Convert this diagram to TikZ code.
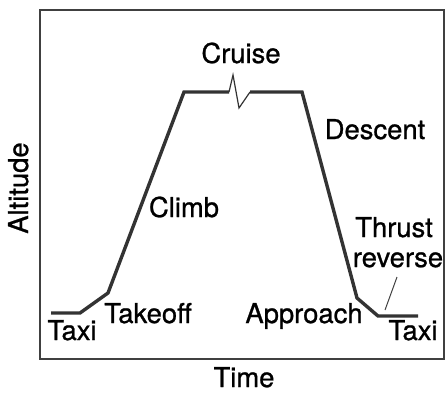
\documentclass[tikz,border=0pt]{standalone}
\usepackage{fontspec}
\setmainfont[FakeBold=0.9]{TeX Gyre Heros}
\begin{document}
\begin{tikzpicture}[x=1bp,y=-1bp]
	\tikzstyle{every node}=[inner sep=0pt, anchor=base, font=\fontsize{27.5}{30}\selectfont]
	\tikzstyle{profile}=[line width=3.4bp, black!80, line join=miter]
	\useasboundingbox (0,0) rectangle (446,393);
	% frame of the graph
	\draw[line width=2.2bp, black!75] (40,10) rectangle (444,359);
	% flight profile
	\coordinate (gateA) at (51,313);
	\coordinate (roll) at (80,313);
	\coordinate (lift) at (108,293);
	\coordinate (toc) at (184,92);
	\coordinate (breakA) at (229,92);
	\coordinate (breakB) at (233,75);
	\coordinate (breakC) at (239,108);
	\coordinate (breakD) at (250,92);
	\coordinate (tod) at (302,92);
	\coordinate (final) at (357,298);
	\coordinate (touch) at (378,316);
	\coordinate (gateB) at (418,316);
	\draw[profile] (gateA)--(roll)--(lift)--(toc)--(breakA);
	\draw[black!80, line width=1.2bp] (breakA)--(breakB)--(breakC)--(breakD);
	\draw[profile] (breakD)--(tod)--(final)--(touch)--(gateB);
	% labels
	\node (cruise) at (241,63) {Cruise};
	\node (climb) at (184,217) {Climb};
	\node (descent) at (375,139) {Descent};
	\node (thrust) at (394,237) {Thrust};
	\node (reverse) at (398,267) {reverse};
	\node (taxiL) at (72,340) {Taxi};
	\node (takeoff) at (148,323) {Takeoff};
	\node (approach) at (304,323) {Approach};
	\node (taxiR) at (413,340) {Taxi};
	\node (time) at (244,387) {Time};
	\node[rotate=90] (alt) at (28,188) {Altitude};
	% leader to thrust reverse
	\coordinate (revpt) at (385,310);
	\coordinate (revtip) at (397,277);
	\draw[black!75, line width=1bp] (revpt) -- (revtip);
\end{tikzpicture}
\end{document}
